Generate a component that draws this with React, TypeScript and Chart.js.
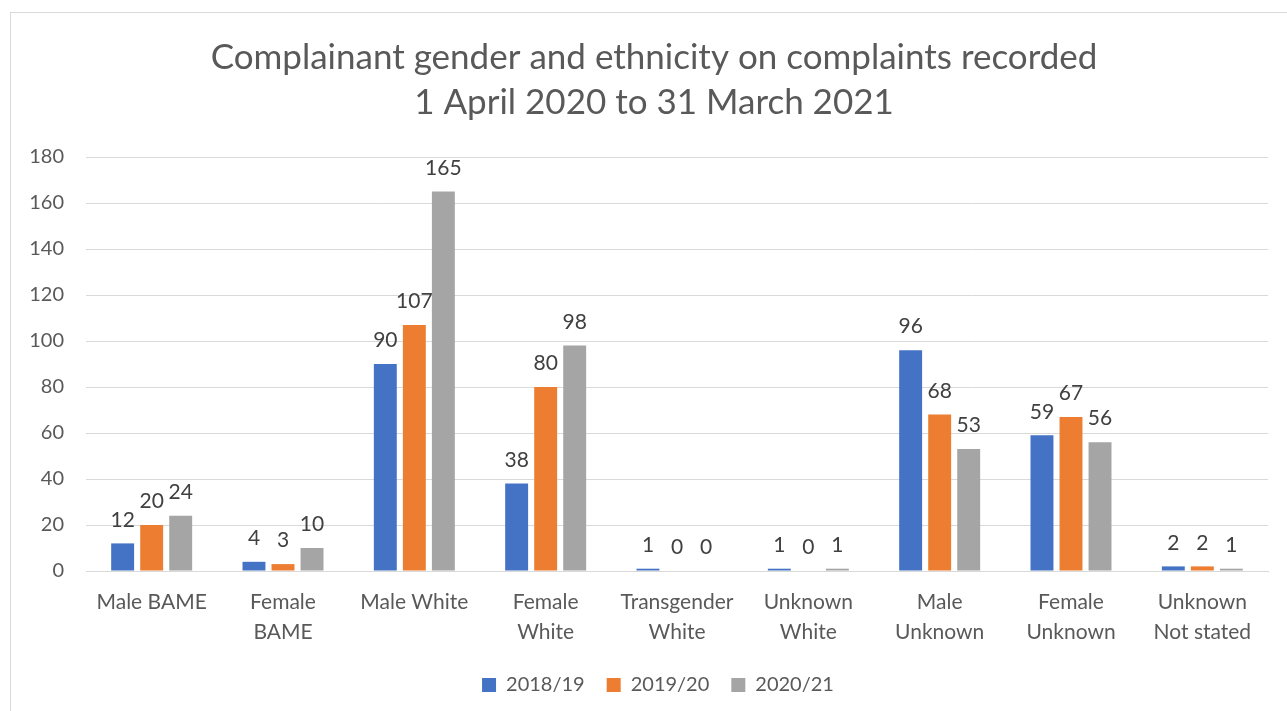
import React, { useEffect, useRef } from "react";
import { Chart, registerables } from "chart.js";

Chart.register(...registerables);

const categories: string[][] = [
  ["Male BAME"],
  ["Female", "BAME"],
  ["Male White"],
  ["Female", "White"],
  ["Transgender", "White"],
  ["Unknown", "White"],
  ["Male", "Unknown"],
  ["Female", "Unknown"],
  ["Unknown", "Not stated"],
];
const seriesNames = ["2018/19", "2019/20", "2020/21"];
const values1819 = [12, 4, 90, 38, 1, 1, 96, 59, 2];
const values1920 = [20, 3, 107, 80, 0, 0, 68, 67, 2];
const values2021 = [24, 10, 165, 98, 0, 1, 53, 56, 1];
const colors = ["#4472C4", "#ED7D31", "#A5A5A5"];
const titleLines = [
  "Complainant gender and ethnicity on complaints recorded",
  "1 April 2020 to 31 March 2021",
];

const FONT = "Lato, 'Open Sans', sans-serif";
const TEXT = "#595959";

const dataLabels = {
  id: "dataLabels",
  afterDatasetsDraw(chart: any) {
    const ctx = chart.ctx;
    ctx.save();
    ctx.font = `21px ${FONT}`;
    ctx.fillStyle = "#404040";
    ctx.textAlign = "center";
    ctx.textBaseline = "bottom";
    chart.data.datasets.forEach((ds: any, i: number) => {
      const meta = chart.getDatasetMeta(i);
      meta.data.forEach((bar: any, j: number) => {
        ctx.fillText(String(ds.data[j]), bar.x, bar.y - 13);
      });
    });
    ctx.restore();
  },
};

// Centre the title and legend on the bordered frame rather than the canvas
const shiftBlocks = {
  id: "shiftBlocks",
  afterLayout(chart: any) {
    const t = chart.titleBlock;
    if (t) {
      t.left += 10;
      t.right += 10;
    }
    const l = chart.legend;
    if (l) {
      l.left += 14;
      l.right += 14;
    }
  },
};

export default function App() {
  const ref = useRef<HTMLCanvasElement>(null);
  useEffect(() => {
    document.body.style.margin = "0";
    const chart = new Chart(ref.current!, {
      type: "bar",
      data: {
        labels: categories,
        datasets: [values1819, values1920, values2021].map((d, i) => ({
          label: seriesNames[i],
          data: d,
          backgroundColor: colors[i],
          categoryPercentage: 0.663,
          barPercentage: 0.79,
        })),
      },
      options: {
        animation: false,
        responsive: false,
        maintainAspectRatio: false,
        layout: { padding: { left: 20, right: 19, top: 0, bottom: 6 } },
        plugins: {
          title: {
            display: true,
            text: titleLines,
            color: TEXT,
            font: { family: FONT, size: 35, weight: "normal", lineHeight: "45px" },
            padding: { top: 35, bottom: 32 },
          },
          legend: {
            position: "bottom",
            labels: {
              color: TEXT,
              font: { family: FONT, size: 20 },
              boxWidth: 14,
              boxHeight: 14,
              padding: 22,
            },
          },
          tooltip: { enabled: false },
        },
        scales: {
          x: {
            grid: { display: false, drawTicks: false },
            border: { color: "#D9D9D9" },
            ticks: {
              color: TEXT,
              font: { family: FONT, size: 21, lineHeight: 1.4 },
              padding: 17,
              maxRotation: 0,
              autoSkip: false,
            },
            afterFit: (s: any) => {
              s.height = 82;
            },
          },
          y: {
            min: 0,
            max: 180,
            grid: { color: "#D9D9D9", drawTicks: false },
            border: { display: false },
            ticks: {
              stepSize: 20,
              color: TEXT,
              font: { family: FONT, size: 20 },
              padding: 22,
            },
            afterFit: (s: any) => {
              s.width = 66;
            },
          },
        },
      },
      plugins: [dataLabels, shiftBlocks],
    });
    return () => chart.destroy();
  }, []);
  return (
    <div style={{ position: "relative", width: 1287, height: 711, background: "#fff", overflow: "hidden" }}>
      <div
        style={{
          position: "absolute",
          left: 10,
          top: 12,
          width: 1300,
          height: 720,
          border: "1px solid #D9D9D9",
          boxSizing: "border-box",
        }}
      />
      <canvas ref={ref} width={1287} height={711} style={{ position: "absolute", left: 0, top: 0 }} />
    </div>
  );
}
